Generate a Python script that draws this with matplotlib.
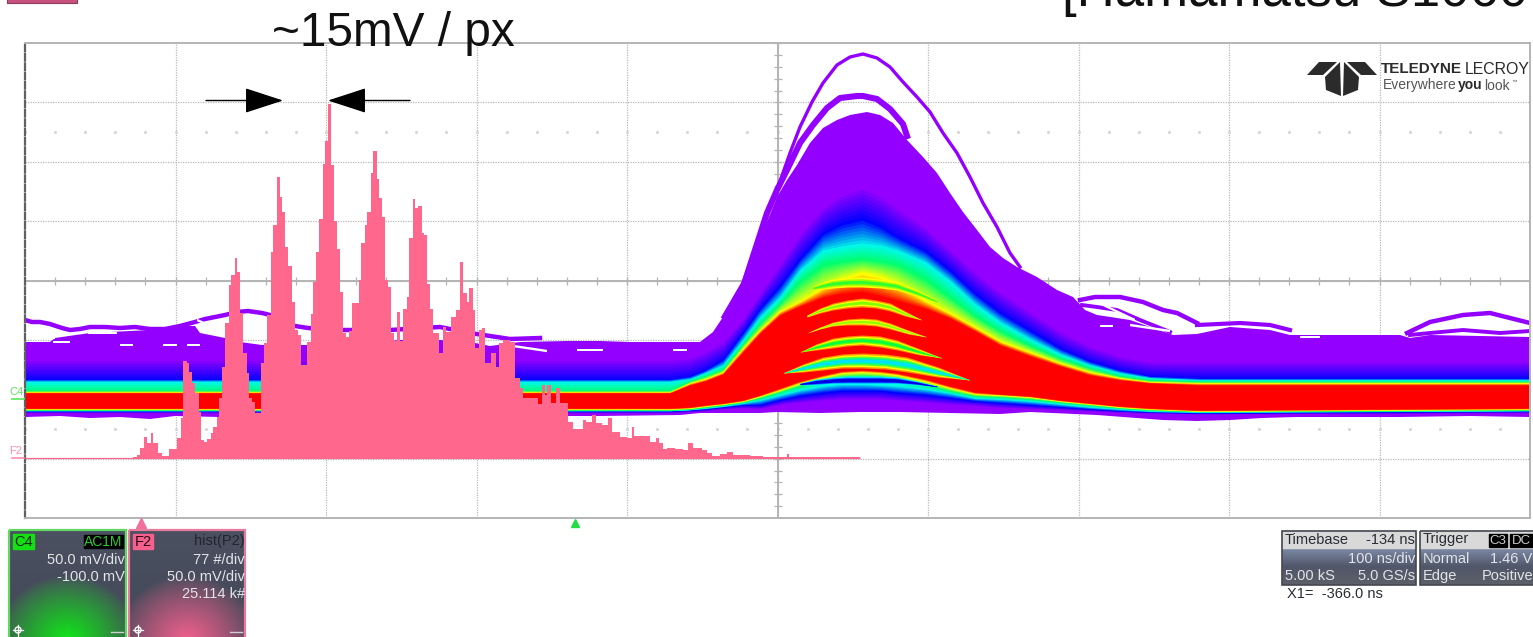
import numpy as np
import matplotlib
matplotlib.use("Agg")
import matplotlib.pyplot as plt
from matplotlib.colors import to_rgb
from matplotlib.patches import Rectangle, Polygon, Circle

W, H = 1533, 637
plt.rcParams['font.family'] = ['Liberation Sans', 'DejaVu Sans']

# ---- scope raster units: 150.5 per time division, 59.4 per vertical division
grid_x = [25, 175.5, 326, 476.5, 627, 777.5, 928, 1078.5, 1229, 1379.5, 1530]
grid_y = [43, 102.4, 161.8, 221.1, 280.5, 339.9, 399.3, 458.6, 518]

# ---- persistence map contours (raster level at each record position)
band_x = [25, 670, 690, 705, 723, 743, 760, 780, 800, 823, 842, 862, 880, 897, 925, 950, 975,
          1000, 1030, 1060, 1090, 1120, 1150, 1200, 1530]
up_purple = [358, 358, 356, 350, 340, 318, 292, 262, 232, 205, 192, 185, 193, 205, 225, 248, 270,
             290, 310, 330, 345, 355, 360, 360, 360]
up_blue = [379, 379, 376, 370, 359, 332, 308, 285, 258, 232, 222, 217, 225, 236, 250, 270, 293,
           312, 330, 348, 361, 370, 376, 378, 378]
up_cyan = [381.5, 381.5, 379, 373, 365, 340, 317, 297, 270, 250, 246, 243, 245, 250, 262, 281, 304,
           322, 339, 354, 365, 373, 378, 380, 380]
up_green = [390.5, 390.5, 381, 376, 369, 344, 323, 303, 280, 263, 260, 258, 260, 263, 277, 296, 315,
            330, 345, 358, 368, 376, 380, 381.5, 381.5]
up_yellow = [392, 392, 383, 379, 372, 348, 330, 311, 301, 287, 278, 272, 276, 283, 300, 313, 327,
             341, 352, 363, 372, 378, 382, 383, 383]
up_red = [393, 393, 385, 381, 374, 352, 333, 315, 306, 297, 293, 291, 295, 300, 308, 318, 331,
          345, 356, 366, 375, 380, 383, 385, 385]
lo_red = [408, 408, 407, 405, 403, 400, 395, 388, 381, 375, 371, 370, 371, 373, 379, 386, 392,
          394, 396, 400, 403, 406, 408, 410, 408]
lo_yellow = [409, 409, 408, 406, 404, 401, 396, 390, 383, 377, 373, 372, 373, 375, 381, 388, 394,
             395, 397, 401, 404, 407, 409, 411, 409]
lo_green = [410, 410, 409, 407, 405, 402, 398, 392, 386, 381, 377, 376, 377, 379, 385, 391, 396,
            397, 399, 402, 405, 408, 410, 411.5, 410]
lo_cyan = [410.5, 410.5, 409.5, 408, 406, 403, 400, 395, 390, 386, 384, 384, 385, 386, 389, 393, 398,
           399, 401, 404, 407, 409, 411, 412, 410.5]
lo_blue = [411, 411, 410, 409, 407, 405, 405, 400, 396, 393, 391, 391, 391, 393, 395, 398, 401,
           403, 405, 407, 409, 411, 412, 413, 411]
lo_purple = [413, 413, 412, 411, 409, 408, 409, 405, 403, 401, 400, 400, 400, 401, 403, 405, 406,
             408, 409, 410, 411, 412, 413, 414, 413]

# dense outline of the persistence cloud
cloud_top_x = [25, 50, 55, 90, 150, 180, 195, 200, 225, 240, 262, 300, 330, 400, 440, 470, 490, 520,
               567, 600, 630, 700, 713, 723, 733, 743, 753, 767, 777, 787, 797, 810, 823, 837, 850, 867,
               880, 893, 907, 923, 937, 950, 963, 977, 990, 1003, 1017, 1037, 1057, 1073, 1085, 1097,
               1130, 1173, 1197, 1230, 1270, 1290, 1400, 1410, 1430, 1530]
cloud_top_y = [342, 342, 338, 333, 330, 326, 326, 333, 338, 342, 345, 345, 345, 340, 340, 342, 346, 342,
               341, 341, 342, 342, 332, 317, 297, 280, 257, 222, 197, 180, 165, 143, 128, 120, 115, 112,
               115, 123, 140, 157, 173, 193, 212, 230, 247, 258, 267, 277, 290, 297, 310, 315,
               320, 335, 334, 327, 330, 335, 335, 338, 335, 337]
cloud_low_x = [25, 60, 90, 120, 150, 175, 220, 300, 520, 600, 680, 700, 760, 777, 820, 860, 900, 950,
               1000, 1030, 1097, 1163, 1197, 1230, 1262, 1296, 1400, 1470, 1530]
cloud_low_y = [417, 416, 418, 417, 419, 416, 417, 418, 416, 416, 415, 413, 413, 412, 413, 412, 412, 413,
               414, 412, 415, 420, 421, 420, 418, 417, 417, 416, 417]

# single traces above the cloud
outer_x = [723, 733, 743, 757, 768, 778, 790, 800, 812, 823, 837, 850, 863, 877, 890, 903, 917, 930, 943,
           957, 970, 983, 997, 1010, 1020]
outer_y = [317, 300, 283, 247, 213, 187, 153, 127, 102, 83, 65, 57, 54, 58, 67, 82, 97, 112, 133, 153,
           177, 203, 227, 253, 267]
second_x = [743, 767, 777, 787, 800, 813, 827, 840, 857, 863, 877, 890, 903, 907]
second_y = [287, 213, 190, 170, 143, 125, 108, 98, 96, 96, 99, 109, 124, 136]
strand_a_x = [25, 32, 40, 50, 62, 70, 80, 90, 105, 120, 135, 150, 165, 180, 195, 205, 215, 225, 237, 248,
              262, 270, 295, 308, 330, 390, 440, 470, 490, 510, 540]
strand_a_y = [320, 322, 322, 324, 328, 330, 329, 327, 327, 328, 327, 329, 329, 326, 322, 319, 317, 315,
              312, 311, 313, 315, 326, 328, 330, 330, 327, 333, 336, 339, 338]
strand_b_x = [1080, 1095, 1120, 1143, 1163, 1177, 1197]
strand_b_y = [300, 297, 297, 302, 310, 313, 323]
strand_c_x = [1082, 1097, 1117, 1140, 1170]
strand_c_y = [305, 307, 310, 320, 332]
strand_d_x = [1197, 1240, 1270, 1290]
strand_d_y = [325, 323, 325, 330]
strand_e_x = [1407, 1430, 1463, 1490, 1510, 1530]
strand_e_y = [333, 322, 315, 313, 318, 323]
strand_f_x = [1410, 1430, 1463, 1500, 1530]
strand_f_y = [335, 333, 330, 333, 331]
gap_x0 = [25, 88, 53, 120, 163, 187, 197, 513, 577, 673, 1097, 1130, 1100, 1300]
gap_x1 = [55, 117, 70, 133, 177, 200, 227, 547, 603, 687, 1135, 1170, 1113, 1320]
gap_y0 = [330, 333, 342, 345, 345, 345, 320, 346, 350, 350, 302, 325, 326, 337]
gap_y1 = [338, 333, 342, 345, 345, 345, 333, 351, 350, 350, 320, 331, 326, 337]

# lens-shaped bands inside the saturated area
lens_x = [[813, 823, 833, 847, 862, 880, 897, 917, 937],
          [807, 820, 833, 847, 862, 876, 890, 905, 922],
          [807, 820, 833, 847, 862, 876, 890, 908, 927],
          [800, 816, 833, 847, 862, 880, 897, 920, 942],
          [783, 803, 823, 842, 862, 885, 907, 938, 970],
          [800, 816, 833, 847, 862, 880, 897, 917, 937]]
lens_top = [[286, 282, 279, 277.5, 277, 279, 282, 290, 300],
            [315, 308, 303, 300, 298, 300, 303, 311, 320],
            [333, 327, 322, 319, 318, 319, 323, 330, 337],
            [352, 344, 338, 336, 335, 336, 340, 349, 358],
            [373, 364, 357, 354, 353, 354, 357, 367, 380],
            [383, 379, 377, 376, 376, 376, 377, 381, 386]]
lens_bot = [[290, 289, 288, 287, 287, 288, 290, 296, 303],
            [317, 313, 310, 308, 307, 308, 311, 316, 320],
            [333, 329, 326, 325, 325, 326, 329, 334, 337],
            [352, 350, 348, 346, 345, 347, 350, 355, 358],
            [373, 372, 370, 368, 368, 369, 372, 377, 380],
            [385, 385, 384, 384, 384, 384, 384, 385, 387]]

# histogram steps: left edge of each step and the raster level of its top
hist_edges = [25, 133, 137, 140, 144, 147, 151, 153, 158, 162, 169, 177, 181, 183, 187, 189, 192, 195, 199,
              201, 204, 207, 211, 213, 217, 219, 222, 225, 229, 231, 235, 237, 240, 243, 247, 249, 252, 255,
              261, 264, 267, 271, 273, 277, 280, 282, 285, 288, 292, 295, 298, 301, 307, 311, 313, 316, 319,
              323, 325, 328, 331, 334, 337, 340, 343, 346, 349, 352, 359, 361, 365, 367, 371, 373, 377, 379,
              382, 385, 388, 391, 394, 397, 400, 403, 407, 409, 413, 415, 418, 422, 424, 427, 430, 433, 439,
              443, 446, 451, 456, 460, 463, 467, 469, 473, 475, 479, 482, 485, 491, 496, 499, 503, 510, 515,
              520, 523, 538, 542, 545, 547, 551, 556, 560, 568, 573, 583, 586, 592, 596, 602, 608, 612, 620,
              627, 632, 634, 650, 656, 659, 663, 667, 675, 683, 688, 693, 702, 707, 712, 720, 727, 733, 740,
              750, 763, 787, 789, 860]
hist_tops = [457.5, 457, 455, 448, 437, 443, 433, 443, 453, 456, 449, 438, 418, 361, 363, 372, 383, 393, 412,
             440, 442, 439, 433, 427, 417, 398, 367, 323, 285, 275, 258, 272, 313, 353, 373, 398, 402, 413,
             363, 343, 315, 252, 225, 177, 197, 212, 247, 266, 302, 330, 335, 365, 342, 314, 282, 252, 219,
             164, 141, 104, 165, 221, 249, 292, 333, 337, 331, 303, 280, 243, 225, 212, 173, 151, 179, 198,
             217, 280, 287, 333, 341, 312, 341, 309, 297, 238, 199, 208, 206, 233, 235, 284, 309, 333, 353,
             327, 332, 317, 310, 262, 293, 302, 288, 310, 348, 330, 328, 363, 353, 367, 343, 340, 342, 378,
             388, 398, 404, 385, 395, 385, 403, 388, 403, 422, 429, 420, 422, 415, 423, 425, 418, 432, 437,
             438, 427, 436, 442, 438, 443, 449, 448, 449, 450, 443, 448, 450, 453, 456, 454, 452, 455, 455,
             456, 457, 454, 456.5]

# readouts
c4_readout = ['50.0 mV/div', '-100.0 mV']
f2_readout = ['hist(P2)', '77 #/div', '50.0 mV/div', '25.114 k#']
timebase_readout = ['Timebase', '-134 ns', '100 ns/div', '5.00 kS', '5.0 GS/s']
trigger_readout = ['Trigger', 'Normal', '1.46 V', 'Edge', 'Positive']
cursor_readout = 'X1=  -366.0 ns'
title_left = '~15mV / px'
title_right = '[Hamamatsu S1060'

fig = plt.figure(figsize=(W / 100, H / 100), dpi=100, facecolor='white')

# ---- overlay in picture pixels (panels, labels)
ov = fig.add_axes([0, 0, 1, 1], zorder=3)
ov.set_xlim(0, W); ov.set_ylim(H, 0); ov.axis('off'); ov.patch.set_alpha(0)

# ---- scope screen
ax = fig.add_axes([25 / W, 1 - 518 / H, 1505 / W, 475 / H], zorder=2)
ax.set_xlim(25, 1530); ax.set_ylim(518, 43)
ax.set_xticks([]); ax.set_yticks([])
for s in ax.spines.values():
    s.set_color('#b4b4b4'); s.set_linewidth(1.4)
ax.spines['left'].set_color('#606060')
ax.spines['left'].set_linestyle((0, (3, 1.2)))
ax.spines['left'].set_linewidth(1.6)

GRID = '#b9b9b9'
for gx in grid_x[1:-1]:
    ax.axvline(gx, color=GRID, lw=0.9, ls=(0, (1, 1)), zorder=1)
for gy in grid_y[1:-1]:
    ax.axhline(gy, color=GRID, lw=0.9, ls=(0, (1, 1)), zorder=1)
ax.axvline(grid_x[5], color='#b4b4b4', lw=1.4, zorder=1.1)
ax.axhline(grid_y[4], color='#b4b4b4', lw=1.4, zorder=1.1)
minor_x = np.linspace(25, 1530, 51)
minor_y = np.linspace(43, 518, 41)
ax.vlines(minor_x, grid_y[4] - 4, grid_y[4] + 4, color='#b4b4b4', lw=0.9, zorder=1.1)
ax.hlines(minor_y, grid_x[5] - 4, grid_x[5] + 4, color='#b4b4b4', lw=0.9, zorder=1.1)
for row in (131.5, 429):
    ax.plot(minor_x, np.full_like(minor_x, row), ls='none', marker='s', ms=1.0, color='#d4d4d4', zorder=1)

# ---- persistence cloud
PURPLE = '#9300ff'
poly_x = np.concatenate([cloud_top_x, cloud_low_x[::-1]])
poly_y = np.concatenate([cloud_top_y, cloud_low_y[::-1]])
ax.fill(poly_x, poly_y, color=PURPLE, lw=0, zorder=2)
for sx, sy, lw in [(outer_x, outer_y, 2.4), (second_x, second_y, 4.4), (strand_a_x, strand_a_y, 3.2),
                   (strand_b_x, strand_b_y, 3.2), (strand_c_x, strand_c_y, 2.8), (strand_d_x, strand_d_y, 3.0),
                   (strand_e_x, strand_e_y, 3.2), (strand_f_x, strand_f_y, 2.8)]:
    ax.plot(sx, sy, color=PURPLE, lw=lw, zorder=2, solid_joinstyle='round')
for x0, x1, y0, y1 in zip(gap_x0, gap_x1, gap_y0, gap_y1):
    ax.fill([x0, x1, x1, x0], [y0 - 1.2, y1 - 1.2, y1 + 1.2, y0 + 1.2], color='white', lw=0, zorder=2.05)

levels = [(up_purple, lo_purple, PURPLE), (up_blue, lo_blue, '#0000ff'), (up_cyan, lo_cyan, '#00f8e8'),
          (up_green, lo_green, '#00ff70'), (up_yellow, lo_yellow, '#ffff00'), (up_red, lo_red, '#ff0000')]
z = 2.1
for (u0, l0, c0), (u1, l1, c1) in zip(levels[:-1], levels[1:]):
    u0, l0, u1, l1 = map(np.asarray, (u0, l0, u1, l1))
    c0, c1 = np.array(to_rgb(c0)), np.array(to_rgb(c1))
    for f in np.linspace(0, 1, 9):
        ax.fill_between(band_x, u0 + f * (u1 - u0), l0 + f * (l1 - l0), color=(1 - f) * c0 + f * c1, lw=0, zorder=z)
        z += 0.001

lens_colors = [['#ffff00', '#a0ff00', '#30ff30'],
               ['#ff9000', '#ffff00', '#80ff00'],
               ['#ff9000', '#ffff00', '#90ff00'],
               ['#ff9000', '#ffff00', '#70ff00', '#00ff40'],
               ['#ff9000', '#ffff00', '#60ff30', '#00ff90', '#00e0ff'],
               ['#00ffff', '#0090ff', '#0000ff', '#0000d8']]
for lx, lt, lb, cols in zip(lens_x, lens_top, lens_bot, lens_colors):
    lt, lb = np.asarray(lt, float), np.asarray(lb, float)
    for j, col in enumerate(cols):
        f = j / (2 * len(cols))
        ax.fill_between(lx, lt + f * (lb - lt), lb - f * (lb - lt), color=col, lw=0, zorder=2.5)

# ---- histogram
HIST = '#ff678c'
edges = np.asarray(hist_edges, float)
tops = np.asarray(hist_tops, float)
ax.stairs(tops, edges, baseline=458, fill=True, color=HIST, lw=0, zorder=3)
ax.hlines(458, 25, 860, color=HIST, lw=0.9, zorder=3)

# ---- width annotation
for tail, tip in [(206, 283), (410, 328)]:
    ax.annotate('', xy=(tip, 100.5), xytext=(tail, 100.5), annotation_clip=False, zorder=5,
                arrowprops=dict(arrowstyle='-|>,head_length=24.5,head_width=8', mutation_scale=1, color='black',
                                lw=1.0, shrinkA=0, shrinkB=0))

# ---- logo
LOGO = '#2b2b2b'
for pts in ([(1307, 75), (1319, 62), (1337, 62), (1323, 75)], [(1325, 77), (1340, 62), (1341, 96), (1326, 90)],
            [(1359, 77), (1344, 62), (1343, 96), (1358, 90)], [(1377, 75), (1365, 62), (1347, 62), (1361, 75)]):
    ax.add_patch(Polygon(pts, closed=True, color=LOGO, lw=0, zorder=6))
ax.text(1381, 69, 'TELEDYNE', weight='bold', fontsize=11, color=LOGO, va='center', ha='left', zorder=6)
ax.text(1465, 69, 'LECROY', fontsize=11.4, color=LOGO, va='center', ha='left', zorder=6)
ax.text(1383, 85.5, 'Everywhere', fontsize=10, color='#555555', va='center', ha='left', zorder=6)
ax.text(1458, 85.5, 'you', weight='bold', fontsize=10, color=LOGO, va='center', ha='left', zorder=6)
ax.text(1484, 85.5, 'look', fontsize=10, color='#555555', va='center', ha='left', zorder=6)
ax.text(1511, 82.5, '\u2122', fontsize=4, color='#555555', va='center', ha='left', zorder=6)

# ---- big titles (clipped by the picture edge)
ov.text(272, 33, title_left, fontsize=34.4, color='#111111', va='center', ha='left')
ov.text(1062, 6, title_right, fontsize=38, color='#111111', va='baseline', ha='left')

# ---- channel tags at the left of the screen
ov.text(16, 392, 'C4', fontsize=8, color='#58e858', ha='center', va='center')
ov.plot([12, 24], [398.5, 398.5], color='#58e858', lw=1.2)
ov.text(16, 451, 'F2', fontsize=8, color='#ff8fa8', ha='center', va='center')
ov.plot([12, 24], [458, 458], color='#ff8fa8', lw=1.2)
ov.plot([141], [523], marker='^', ms=7, color='#f0709a', ls='none')
ov.plot([575], [523], marker='^', ms=6, color='#22dd44', ls='none')

# ---- channel panels
def panel(x0, x1, y0, y1, glow, edge):
    ny, nx = 60, 60
    yy, xx = np.mgrid[0:1:ny * 1j, -1:1:nx * 1j]
    base = np.array(to_rgb('#474c5c'))
    img = np.ones((ny, nx, 3)) * base
    img *= (1 + 0.12 * (0.5 - yy))[..., None]
    w = np.clip(1 - np.hypot(xx / 1.25, (yy - 1.05) / 0.62), 0, 1)[..., None] ** 0.8
    img = img * (1 - w) + np.array(to_rgb(glow)) * w
    ov.imshow(np.clip(img, 0, 1), extent=(x0, x1, y1, y0), aspect='auto', interpolation='bilinear', zorder=1)
    ov.add_patch(Rectangle((x0, y0), x1 - x0, y1 - y0 + 5, fill=False, ec=edge, lw=1.6, zorder=2))
    ov.add_patch(Circle((x0 + 9, y1 - 7), 3, fill=False, ec='white', lw=1, zorder=3))
    ov.plot([x0 + 9, x0 + 9], [y1 - 12, y1], color='white', lw=0.9, zorder=3)
    ov.plot([x0 + 4, x0 + 14], [y1 - 7, y1 - 7], color='white', lw=0.9, zorder=3)
    ov.plot([x1 - 15, x1 - 3], [y1 - 5, y1 - 5], color='#cfcfcf', lw=1, zorder=3)

panel(9, 126, 530, 637, '#10e818', '#63d763')
panel(129, 245, 530, 637, '#f4608e', '#e87a9c')
ov.set_xlim(0, W); ov.set_ylim(H, 0)

FS = 10.5
LIGHT = '#e2e4e8'
ov.add_patch(Rectangle((13, 534), 21, 15, color='#14e014', zorder=3))
ov.text(23.5, 541.5, 'C4', fontsize=FS, color='#0a2a0a', ha='center', va='center', zorder=4)
ov.add_patch(Rectangle((84, 535), 39, 13, color='black', zorder=3))
ov.text(103.5, 541.5, 'AC1M', fontsize=FS - 0.5, color='#2ec82e', ha='center', va='center', zorder=4)
for txt, yy in zip(c4_readout, (560, 577)):
    ov.text(125, yy, txt, fontsize=FS, color=LIGHT, ha='right', va='center', zorder=4)
ov.add_patch(Rectangle((133, 534), 20, 15, color='#f5608c', zorder=3))
ov.text(143, 541.5, 'F2', fontsize=FS, color='#2a0a14', ha='center', va='center', zorder=4)
for txt, yy, col in zip(f2_readout, (541, 560, 577, 594), ('#22242e', LIGHT, LIGHT, LIGHT)):
    ov.text(245, yy, txt, fontsize=FS, color=col, ha='right', va='center', zorder=4)

# ---- timebase and trigger boxes
def info_box(x0, x1):
    ny = 40
    t = np.linspace(0, 1, ny)
    top, mid, bot = np.array(to_rgb('#7d8aa6')), np.array(to_rgb('#50576a')), np.array(to_rgb('#5d6068'))
    col = np.where(t[:, None] < 0.5, top + (mid - top) * (t[:, None] / 0.5), mid + (bot - mid) * ((t[:, None] - 0.5) / 0.5))
    img = col[:, None, :]
    ov.imshow(img, extent=(x0, x1, 585, 548), aspect='auto', interpolation='bilinear', zorder=1)
    ov.add_patch(Rectangle((x0, 531), x1 - x0, 17, color='#d9d9d9', zorder=1.5))
    ov.add_patch(Rectangle((x0, 531), x1 - x0, 54, fill=False, ec='#44484f', lw=1.2, zorder=2))

info_box(1282, 1416)
info_box(1420, 1536)
ov.set_xlim(0, W); ov.set_ylim(H, 0)
DARK = '#2a2c34'
ov.text(1285, 539.5, timebase_readout[0], fontsize=FS, color=DARK, va='center', zorder=4)
ov.text(1415, 539.5, timebase_readout[1], fontsize=FS, color=DARK, va='center', ha='right', zorder=4)
ov.text(1415, 559, timebase_readout[2], fontsize=FS, color=LIGHT, va='center', ha='right', zorder=4)
ov.text(1285, 576, timebase_readout[3], fontsize=FS, color=LIGHT, va='center', zorder=4)
ov.text(1415, 576, timebase_readout[4], fontsize=FS, color=LIGHT, va='center', ha='right', zorder=4)
ov.text(1423, 539.5, trigger_readout[0], fontsize=FS, color=DARK, va='center', zorder=4)
ov.add_patch(Rectangle((1489, 534), 18, 13, color='black', zorder=3))
ov.text(1498, 540.5, 'C3', fontsize=FS - 1, color='#cfcfcf', va='center', ha='center', zorder=4)
ov.add_patch(Rectangle((1510, 534), 23, 13, color='black', zorder=3))
ov.text(1521, 540.5, 'DC', fontsize=FS - 1, color='#cfcfcf', va='center', ha='center', zorder=4)
ov.text(1423, 559, trigger_readout[1], fontsize=FS, color=LIGHT, va='center', zorder=4)
ov.text(1532, 559, trigger_readout[2], fontsize=FS, color=LIGHT, va='center', ha='right', zorder=4)
ov.text(1423, 576, trigger_readout[3], fontsize=FS, color=LIGHT, va='center', zorder=4)
ov.text(1533, 576, trigger_readout[4], fontsize=FS, color=LIGHT, va='center', ha='right', zorder=4)
ov.text(1287, 594, cursor_readout, fontsize=FS, color=DARK, va='center', zorder=4)

# cropped panel at the very top
ov.add_patch(Rectangle((7, -4), 70, 7, fc='#c8507e', ec='#8a3a5a', lw=0.8, zorder=2))

fig.savefig('out.png', dpi=100, facecolor='white')
